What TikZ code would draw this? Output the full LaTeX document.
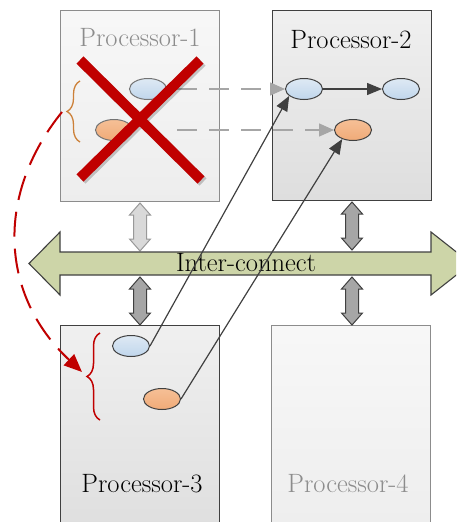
\documentclass[tikz,border=0pt]{standalone}
\usepackage{fontspec}
\usetikzlibrary{shapes.geometric,arrows.meta,decorations.pathreplacing}
\definecolor{icfill}{RGB}{205,213,168}
\definecolor{xred}{RGB}{192,0,0}
\definecolor{darkln}{RGB}{64,64,64}
\definecolor{dashgray}{RGB}{166,166,166}
\definecolor{fadetext}{RGB}{140,140,140}
\definecolor{bracebrown}{RGB}{204,128,56}
\tikzset{
  boxstrong/.style={draw=darkln, line width=1.1pt, top color=white!94!black, bottom color=white!87!black, minimum width=159pt, anchor=north west, inner sep=0pt},
  boxfaint/.style={draw=white!55!black, line width=1.1pt, top color=white!97!black, bottom color=white!93!black, minimum width=159pt, anchor=north west, inner sep=0pt},
  lbl/.style={font=\fontsize{26.5}{31}\selectfont, inner sep=0pt},
  blueell/.style={ellipse, draw=darkln, line width=1pt, top color={rgb,255:red,222;green,233;blue,244}, bottom color={rgb,255:red,192;green,214;blue,236}, minimum width=37pt, minimum height=21pt, inner sep=0pt},
  orangeell/.style={ellipse, draw=darkln, line width=1pt, top color={rgb,255:red,246;green,192;blue,150}, bottom color={rgb,255:red,240;green,170;blue,120}, minimum width=37pt, minimum height=21pt, inner sep=0pt},
  dashconn/.style={draw=dashgray, line width=1.4pt, dash pattern=on 20pt off 12pt, -{Triangle[length=15pt,width=13pt,fill=dashgray]}},
  solidconn/.style={draw=darkln, line width=1.2pt, -{Triangle[length=15pt,width=12pt]}},
  dblarr/.pic={\path[pic actions] (0,0) -- (10.5,12) -- (6.5,12) -- (6.5,36) -- (10.5,36) -- (0,48) -- (-10.5,36) -- (-6.5,36) -- (-6.5,12) -- (-10.5,12) -- cycle;},
  faintarr/.style={fill=white!85!black, draw=white!60!black, line width=1pt},
  strongarr/.style={fill=white!65!black, draw=darkln, line width=1pt},
  xbar/.style={draw=xred, line width=10pt},
  xshadow/.style={draw=black, opacity=0.2, line width=10pt},
}
\begin{document}
\begin{tikzpicture}[x=1pt,y=-1pt]
\useasboundingbox (0,0) rectangle (456,522);
\clip (0,0) rectangle (456,522);
% boxes
\node[boxfaint, minimum height=191pt] (p1) at (60,10) {};
\node[boxstrong, minimum height=190pt] (p2) at (272,10) {};
\node[boxstrong, minimum height=215pt] (p3) at (60,325) {};
\node[boxfaint, minimum height=215pt] (p4) at (271,325) {};
% vertical double arrows
\pic[faintarr] at (140,203) {dblarr};
\pic[strongarr] at (352,202) {dblarr};
\pic[strongarr] at (140,277) {dblarr};
\pic[strongarr] at (352,277) {dblarr};
% interconnect
\path[fill=icfill, draw=darkln, line width=1.1pt] (29,263.5) -- (60,232) -- (60,252) -- (431,252) -- (431,232) -- (471,263.5) -- (431,295) -- (431,275) -- (60,275) -- (60,295) -- cycle;
\node[lbl] (ic) at (246,263) {Inter-connect};
% labels
\node[lbl, text=fadetext] (t1) at (140,38) {Processor-1};
\node[lbl] (t2) at (351,40) {Processor-2};
\node[lbl] (t3) at (142,484) {Processor-3};
\node[lbl, text=fadetext] (t4) at (348,484) {Processor-4};
% ellipses
\node[blueell, draw=white!45!black] (b1) at (148,89) {};
\node[orangeell, draw=white!45!black] (o1) at (114,130) {};
\node[blueell] (b2) at (304,89) {};
\node[blueell] (b3) at (401,89) {};
\node[orangeell] (o2) at (353,130) {};
\node[blueell] (b4) at (131,346) {};
\node[orangeell] (o4) at (162,399) {};
% connectors
\draw[dashconn, shorten <=10pt] (b1.east) -- (b2.west);
\draw[dashconn, shorten <=44pt] (o1.east) -- (o2.west);
\draw[solidconn] (b2) -- (b3);
\draw[solidconn] (b4.east) -- (b2.205);
\draw[solidconn] (o4.east) -- (o2.220);
% red X
\draw[xshadow] (82,62) -- (203,182);
\draw[xshadow] (202,62) -- (82,180);
\draw[xbar] (80,60) -- (201,180);
\draw[xbar] (200,60) -- (80,178);
% braces
\coordinate (ob1) at (80,142);
\coordinate (ob2) at (80,81);
\draw[bracebrown, line width=1.3pt, decorate, decoration={brace, amplitude=13pt}] (ob1) -- (ob2);
\coordinate (rb1) at (100,420);
\coordinate (rb2) at (100,333);
\draw[xred, line width=1.5pt, decorate, decoration={brace, amplitude=13pt}] (rb1) -- (rb2);
% red dashed curved arrow
\coordinate (rs) at (62,112);
\coordinate (re) at (82,372);
\draw[xred, line width=2pt, dash pattern=on 25pt off 12pt, -{Triangle[length=18pt,width=15pt]}] (rs) .. controls (-5,195) and (0,295) .. (re);
\end{tikzpicture}
\end{document}
